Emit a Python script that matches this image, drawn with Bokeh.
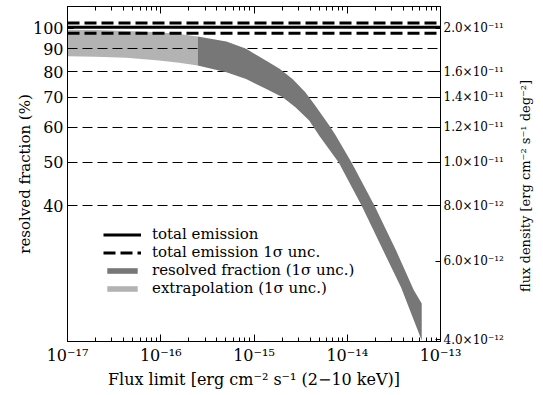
import math
from bokeh.plotting import figure
from bokeh.models import (Range1d, LogAxis, FixedTicker, CustomJSTickFormatter,
                          Legend, LegendItem, LogScale, Title)
from bokeh.embed import file_html
from bokeh.resources import INLINE

# ---------------- data ----------------
x_min, x_max = 1e-17, 1e-13
y_min, y_max = 19.8, 112.0          # resolved fraction (%)
pct_to_flux = 2.0e-11 / 100.0       # flux density corresponding to 1 %

total_emission = 100.6
total_unc_lo = 97.5
total_unc_hi = 102.9

extrap_flux = [1.0e-17, 2.0e-17, 4.3e-17, 9.6e-17, 1.57e-16, 2.49e-16]
extrap_hi = [99.3, 99.2, 98.7, 98.05, 97.2, 95.9]
extrap_lo = [86.6, 86.4, 85.9, 84.7, 83.7, 82.5]

resolved_flux_hi = [2.49e-16, 5.06e-16, 8.23e-16, 1.34e-15, 1.88e-15, 2.59e-15,
                    3.55e-15, 4.53e-15, 6.53e-15, 7.56e-15, 1.116e-14, 1.954e-14,
                    3.34e-14, 5.18e-14, 6.29e-14]
resolved_hi = [95.9, 93.45, 90.0, 84.7, 81.2, 77.0, 71.9, 67.1, 60.2, 57.4, 49.9,
               40.0, 31.7, 25.8, 24.1]
resolved_flux_lo = [2.49e-16, 5.06e-16, 8.23e-16, 1.34e-15, 2.03e-15, 2.78e-15,
                    3.91e-15, 4.99e-15, 8.13e-15, 1.424e-14, 2.43e-14, 3.77e-14,
                    6.29e-14]
resolved_lo = [82.5, 79.7, 77.0, 73.15, 70.0, 66.5, 62.1, 57.45, 49.9, 40.0, 31.7,
               26.2, 19.9]

x_tick_values = [1e-17, 1e-16, 1e-15, 1e-14, 1e-13]
x_tick_labels = ["10⁻¹⁷", "10⁻¹⁶", "10⁻¹⁵", "10⁻¹⁴", "10⁻¹³"]
y_tick_values = [40, 50, 60, 70, 80, 90, 100]
y_tick_labels = ["40", "50", "60", "70", "80", "90", "100"]
grid_values = [40, 50, 60, 70, 80, 90]
r_tick_values = [4e-12, 6e-12, 8e-12, 1e-11, 1.2e-11, 1.4e-11, 1.6e-11, 2e-11]
r_tick_labels = ["4.0×10⁻¹²", "6.0×10⁻¹²", "8.0×10⁻¹²", "1.0×10⁻¹¹",
                 "1.2×10⁻¹¹", "1.4×10⁻¹¹", "1.6×10⁻¹¹", "2.0×10⁻¹¹"]

x_title = "Flux limit [erg cm⁻² s⁻¹ (2−10 keV)]"
y_title = "resolved fraction (%)"
r_title = "flux density [erg cm⁻² s⁻¹ deg⁻²]"

FONT = "DejaVu Serif"
LOOKUP = """
for (let i = 0; i < vals.length; i++) {
  if (Math.abs(vals[i] - tick) <= 1e-6 * Math.abs(vals[i])) return labs[i];
}
return '';
"""

# ---------------- figure ----------------
p = figure(width=543, height=395, x_axis_type="log", y_axis_type="log",
           x_range=Range1d(x_min, x_max), y_range=Range1d(y_min, y_max),
           output_backend="svg", toolbar_location=None,
           min_border_left=67, min_border_right=98, min_border_top=6,
           min_border_bottom=54)
p.outline_line_color = "black"
p.outline_line_width = 1
p.background_fill_color = "white"
p.border_fill_color = "white"

# grid
p.xgrid.visible = False
p.ygrid.ticker = FixedTicker(ticks=grid_values)
p.ygrid.grid_line_color = "black"
p.ygrid.grid_line_width = 1
p.ygrid.grid_line_dash = "10 5"

minor_x = [m * 10.0 ** e for e in range(-17, -13) for m in range(2, 10)]

# bottom axis
xa = p.xaxis[0]
xa.ticker = FixedTicker(ticks=x_tick_values, minor_ticks=minor_x)
xa.formatter = CustomJSTickFormatter(args=dict(vals=x_tick_values, labs=x_tick_labels), code=LOOKUP)

# left axis
ya = p.yaxis[0]
ya.ticker = FixedTicker(ticks=y_tick_values)
ya.formatter = CustomJSTickFormatter(args=dict(vals=y_tick_values, labs=y_tick_labels), code=LOOKUP)
ya.axis_label = y_title

# top axis (ticks only)
ta = LogAxis(ticker=FixedTicker(ticks=x_tick_values, minor_ticks=minor_x),
             formatter=CustomJSTickFormatter(code="return '';"))
p.add_layout(ta, "above")

# right axis: label reads bottom-to-top, anchored at the lower end and
# pushed towards the middle with leading no-break spaces
p.extra_y_ranges = {"flux": Range1d(y_min * pct_to_flux, y_max * pct_to_flux)}
p.extra_y_scales = {"flux": LogScale()}
ra = LogAxis(y_range_name="flux", ticker=FixedTicker(ticks=r_tick_values),
             formatter=CustomJSTickFormatter(args=dict(vals=r_tick_values, labs=r_tick_labels), code=LOOKUP),
             axis_label="\u00a0" * 12 + r_title)
p.add_layout(ra, "right")
props = ra.properties()
if "axis_label_orientation" in props:
    ra.axis_label_orientation = math.pi / 2
if "axis_label_align" in props:
    ra.axis_label_align = "start"

for ax in (xa, ya, ta, ra):
    ax.axis_line_color = "black"
    ax.major_tick_line_color = "black"
    ax.minor_tick_line_color = "black"
    ax.major_tick_out = 0
    ax.minor_tick_out = 0
    ax.major_tick_in = 7
    ax.minor_tick_in = 4
    ax.major_label_text_font = FONT
    ax.major_label_text_color = "black"
    ax.major_label_text_line_height = 1.0
    ax.axis_label_text_font = FONT
    ax.axis_label_text_font_style = "normal"
    ax.axis_label_text_color = "black"
    ax.axis_label_text_line_height = 1.0

xa.major_label_text_font_size = "16px"
xa.major_label_standoff = 4
ya.major_label_text_font_size = "16px"
ya.axis_label_text_font_size = "15px"
ya.major_label_standoff = 4
ya.axis_label_standoff = -4
ya.major_tick_in = 6
ta.major_label_standoff = 0
ta.major_label_text_font_size = "0px"
ra.major_label_text_font_size = "12px"
ra.axis_label_text_font_size = "13px"
ra.major_label_standoff = 3
ra.axis_label_standoff = 19
ra.major_tick_in = 5

# x-axis title in the lower panel
p.add_layout(Title(text=x_title, align="center", standoff=0, text_font=FONT,
                   text_font_size="16px", text_font_style="normal",
                   text_color="black", text_line_height=1.0), "below")

# ---------------- glyphs ----------------
r_extrap = p.varea(x=extrap_flux, y1=extrap_lo, y2=extrap_hi,
                   fill_color="#b3b3b3", level="image")
r_resolved = p.patch(x=resolved_flux_hi + resolved_flux_lo[::-1],
                     y=resolved_hi + resolved_lo[::-1],
                     fill_color="#777777", line_color=None)
r_total = p.line(x=[x_min, x_max], y=[total_emission, total_emission],
                 line_color="black", line_width=3)
r_unc = p.line(x=[x_min, x_max], y=[total_unc_lo, total_unc_lo],
               line_color="black", line_width=3, line_dash="12 5")
p.line(x=[x_min, x_max], y=[total_unc_hi, total_unc_hi],
       line_color="black", line_width=3, line_dash="12 5")

legend = Legend(items=[
    LegendItem(label="total emission", renderers=[r_total]),
    LegendItem(label="total emission 1σ unc.", renderers=[r_unc]),
    LegendItem(label="resolved fraction (1σ unc.)", renderers=[r_resolved]),
    LegendItem(label="extrapolation (1σ unc.)", renderers=[r_extrap]),
], location=(36, 44))
legend.background_fill_alpha = 0
legend.border_line_color = None
legend.padding = 0
legend.margin = 0
legend.spacing = 0
legend.glyph_width = 38
legend.glyph_height = 7
legend.label_height = 18
legend.label_standoff = 11
legend.label_text_font = FONT
legend.label_text_font_size = "15px"
legend.label_text_color = "black"
p.add_layout(legend, "center")

open("out.html", "w").write(file_html(p, INLINE))
